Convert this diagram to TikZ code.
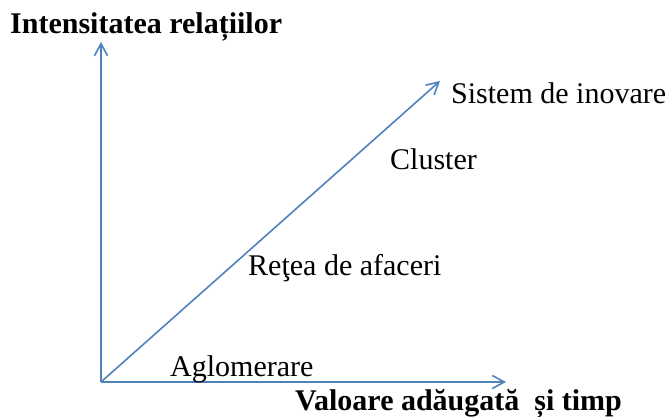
\documentclass[tikz,border=0pt]{standalone}
\usepackage{fontspec}
\setmainfont{Liberation Serif}
\usetikzlibrary{arrows.meta}
\definecolor{axisblue}{RGB}{79,129,189}
\tikzset{
  axis/.style={draw=axisblue, line width=1.6pt, -{Straight Barb[length=12pt,width=13pt,line width=1.6pt]}},
  lbl/.style={anchor=base west, inner sep=0pt, font=\fontsize{30}{36}\selectfont},
  blbl/.style={lbl, font=\fontsize{30}{36}\selectfont\bfseries}
}
\begin{document}
\begin{tikzpicture}[x=1pt,y=-1pt]
\useasboundingbox (0,0) rectangle (672,417);
\coordinate (o) at (101,382);
\coordinate (ytip) at (101,42);
\coordinate (xtip) at (506,382);
\coordinate (dtip) at (440,81);
\draw[axis] (o) -- (ytip);
\draw[axis] (o) -- (xtip);
\draw[axis] (o) -- (dtip);
\node[blbl] (ylab) at (10,34) {Intensitatea relațiilor};
\node[blbl] (xlab) at (295,410) {Valoare adăugată\hspace{0.5em}și timp};
\node[lbl] (sist) at (451,104) {Sistem de inovare};
\node[lbl] (clus) at (390,170) {Cluster};
\node[lbl] (retea) at (248,275) {Reţea de afaceri};
\node[lbl] (aglo) at (170,376) {Aglomerare};
\end{tikzpicture}
\end{document}
